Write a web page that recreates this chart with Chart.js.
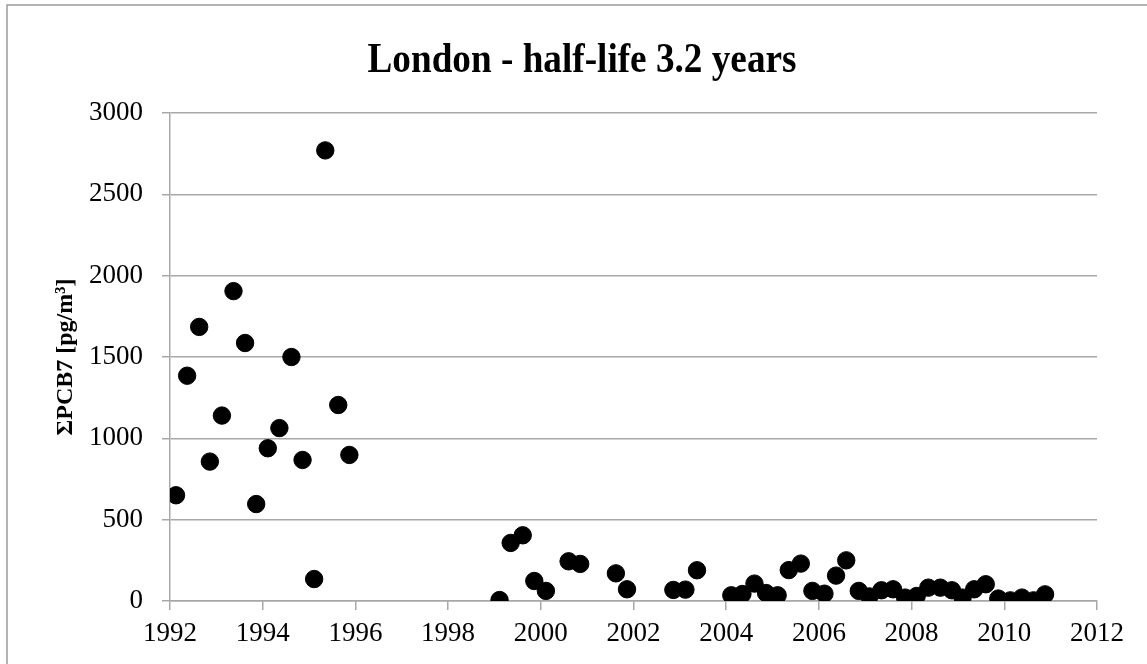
<!DOCTYPE html>
<html>
<head>
<meta charset="utf-8">
<script src="https://cdn.jsdelivr.net/npm/chart.js@4.4.1/dist/chart.umd.min.js"></script>
<style>
  html, body { margin: 0; padding: 0; background: #ffffff; }
  #wrap { width: 1147px; height: 664px; }
</style>
</head>
<body>
<div id="wrap"><canvas id="c" width="1147" height="664"></canvas></div>
<script>
const chartTitle = "London - half-life 3.2 years";
const yAxisTitle = "ΣPCB7 [pg/m³]";

const years = [1992.13, 1992.37, 1992.63, 1992.86, 1993.12, 1993.37, 1993.62, 1993.86,
  1994.11, 1994.36, 1994.62, 1994.86, 1995.11, 1995.35, 1995.63, 1995.87,
  1999.11, 1999.35, 1999.61, 1999.86, 2000.11, 2000.60, 2000.85, 2001.62, 2001.86,
  2002.86, 2003.12, 2003.37, 2004.11, 2004.35, 2004.61, 2004.86, 2005.11, 2005.35,
  2005.61, 2005.86, 2006.12, 2006.37, 2006.59, 2006.86, 2007.09, 2007.35, 2007.60,
  2007.86, 2008.11, 2008.36, 2008.62, 2008.87, 2009.10, 2009.35, 2009.60, 2009.87,
  2010.13, 2010.38, 2010.63, 2010.88];

const pcb7 = [650, 1385, 1685, 857, 1140, 1905, 1586, 596,
  939, 1063, 1500, 867, 135, 2770, 1205, 898,
  6, 357, 404, 123, 62, 244, 228, 170, 72,
  68, 70, 189, 35, 43, 107, 49, 35, 190,
  230, 62, 45, 156, 250, 62, 28, 66, 72,
  21, 31, 82, 82, 66, 21, 72, 103, 15,
  4, 21, 4, 41];

const xMin = 1992, xMax = 2012, xStep = 2;
const yMin = 0, yMax = 3000, yStep = 500;

const points = years.map((x, i) => ({ x: x, y: pcb7[i] }));

const gridGray = '#a8a8a8';

const framePlugin = {
  id: 'frameAndTitle',
  beforeDraw(chart) {
    const ctx = chart.ctx;
    ctx.save();
    ctx.fillStyle = '#ffffff';
    ctx.fillRect(0, 0, chart.width, chart.height);
    ctx.strokeStyle = '#9a9a9a';
    ctx.lineWidth = 1.5;
    ctx.strokeRect(7, 5, chart.width + 20, chart.height + 20);
    ctx.restore();
  },
  afterDraw(chart) {
    const ctx = chart.ctx;
    ctx.save();
    ctx.translate(582, 72);
    ctx.scale(0.886, 1);
    ctx.font = 'bold 42px "Liberation Serif", "Times New Roman", serif';
    ctx.fillStyle = '#000000';
    ctx.textAlign = 'center';
    ctx.textBaseline = 'alphabetic';
    ctx.fillText(chartTitle, 0, 0);
    ctx.restore();
  }
};

new Chart(document.getElementById('c'), {
  type: 'scatter',
  data: {
    datasets: [{
      label: 'ΣPCB7',
      data: points,
      backgroundColor: '#000000',
      borderColor: '#000000',
      pointRadius: 8.7,
      pointHoverRadius: 8.7,
      borderWidth: 1
    }]
  },
  options: {
    responsive: false,
    animation: false,
    layout: { padding: { top: 113, right: 50, bottom: 0, left: 0 } },
    plugins: {
      legend: { display: false },
      title: { display: false },
      tooltip: { enabled: false }
    },
    scales: {
      x: {
        type: 'linear',
        min: xMin,
        max: xMax,
        afterFit(scale) { scale.height = 63; },
        border: { display: true, color: gridGray, width: 1.5 },
        grid: { drawOnChartArea: false, drawTicks: true, tickLength: 9, color: gridGray, lineWidth: 1.5 },
        ticks: {
          stepSize: xStep,
          padding: 8,
          color: '#000000',
          font: { family: '"Liberation Serif", "Times New Roman", serif', size: 27 },
          maxRotation: 0,
          callback: (v) => String(v)
        }
      },
      y: {
        type: 'linear',
        min: yMin,
        max: yMax,
        afterFit(scale) { scale.width = 170; },
        border: { display: true, color: gridGray, width: 1.5 },
        grid: { drawOnChartArea: true, drawTicks: true, tickLength: 8, color: gridGray, lineWidth: 1.5 },
        ticks: {
          stepSize: yStep,
          padding: 19,
          color: '#000000',
          font: { family: '"Liberation Serif", "Times New Roman", serif', size: 27 },
          callback: (v) => String(v)
        },
        title: {
          display: true,
          text: yAxisTitle,
          color: '#000000',
          padding: { top: 51, bottom: 0 },
          font: { family: '"Liberation Serif", "Times New Roman", serif', size: 24, weight: 'bold' }
        }
      }
    }
  },
  plugins: [framePlugin]
});
</script>
</body>
</html>
